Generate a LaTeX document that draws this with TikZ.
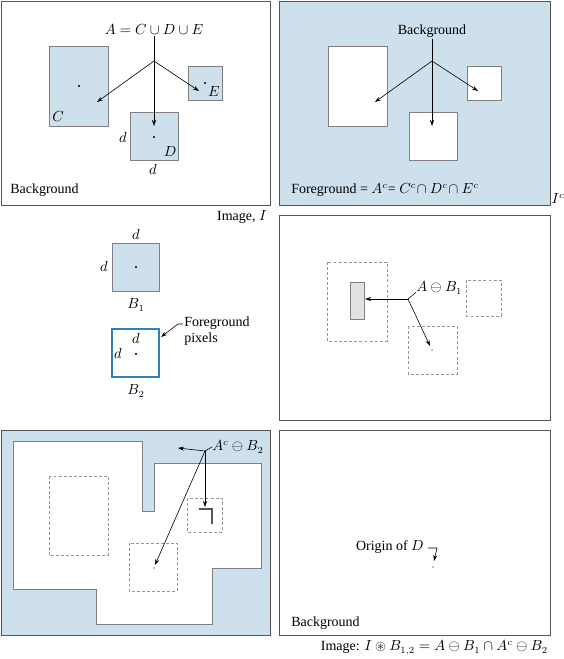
\documentclass[tikz,border=0pt]{standalone}
\usepackage{amsmath}
\usepackage{amssymb}
\usepackage{fontspec}
\setmainfont{Liberation Serif}
\usetikzlibrary{arrows.meta}

\definecolor{lightbg}{RGB}{206,224,236}
\definecolor{framegray}{RGB}{85,85,85}
\definecolor{dashgray}{RGB}{150,150,150}
\definecolor{boxblue}{RGB}{45,130,190}
\definecolor{erodgray}{RGB}{226,226,226}

\tikzset{
  panelframe/.style={draw=framegray, line width=0.6pt},
  setbox/.style={draw=gray, line width=0.6pt},
  dashbox/.style={draw=dashgray, dashed, dash pattern=on 2.2pt off 1.6pt, line width=0.5pt},
  arr/.style={-{Stealth[length=4.5pt,width=3pt]}, line width=0.45pt},
  lbl/.style={inner sep=0.75pt, font=\fontsize{10.5}{12.5}\selectfont},
}

\begin{document}
\begin{tikzpicture}[x=0.75pt,y=0.75pt,yscale=-1,xscale=1]
\useasboundingbox (0,0) rectangle (563,659);

%Shape: Panel [top left]
\draw [panelframe, fill=white] (1,1) rectangle (270,205) ;
\draw [setbox, fill=lightbg] (49,46) rectangle (108,126) ;
\draw [setbox, fill=lightbg] (130,112) rectangle (178,160) ;
\draw [setbox, fill=lightbg] (188,66) rectangle (222,100) ;
\fill (79,86) circle (1.1) ;
\fill (154,137) circle (1.1) ;
\fill (205,83) circle (1.1) ;
% Text Node
\node [lbl] (ttlA) at (154,30) {$A = C \cup D \cup E$};
\node [lbl] (lblC) at (58,117) {$C$};
\node [lbl] (lblD) at (170,152) {$D$};
\node [lbl] (lblE) at (214,92) {$E$};
\node [lbl] (dLeft) at (123,137) {$d$};
\node [lbl] (dBot) at (153,169) {$d$};
\node [lbl, anchor=west] (bgA) at (9,190) {Background};
%Straight Lines
\coordinate (brA) at (154,61) ;
\coordinate (tgC) at (97,102) ;
\coordinate (tgD) at (154,126) ;
\coordinate (tgE) at (199,91) ;
\draw [line width=0.45pt] (ttlA) -- (brA) ;
\draw [arr] (brA) -- (tgC) ;
\draw [arr] (brA) -- (tgD) ;
\draw [arr] (brA) -- (tgE) ;

%Shape: Panel [top right]
\draw [panelframe, fill=lightbg] (279,1) rectangle (550,205) ;
\draw [setbox, fill=white] (328,46) rectangle (387,126) ;
\draw [setbox, fill=white] (409,112) rectangle (457,160) ;
\draw [setbox, fill=white] (467,66) rectangle (501,100) ;
% Text Node
\node [lbl] (ttlB) at (432,31) {Background};
\node [lbl, anchor=west] (fgB) at (290,190) {Foreground = $A^c$= $C^c\!\cap D^c\!\cap E^c$};
\node [lbl] (icB) at (558,199) {$I^c$};
%Straight Lines
\coordinate (brB) at (432,61) ;
\coordinate (tgCc) at (375,102) ;
\coordinate (tgDc) at (432,126) ;
\coordinate (tgEc) at (478,91) ;
\draw [line width=0.45pt] (ttlB) -- (brB) ;
\draw [arr] (brB) -- (tgCc) ;
\draw [arr] (brB) -- (tgDc) ;
\draw [arr] (brB) -- (tgEc) ;

%Shape: Structuring elements
\node [lbl, anchor=east] (imgI) at (268,217) {Image, $I$};
\draw [setbox, fill=lightbg] (112,243) rectangle (159,291) ;
\fill (136,267) circle (1.1) ;
\node [lbl] (dB1t) at (136,234) {$d$};
\node [lbl] (dB1l) at (104,266) {$d$};
\node [lbl] (nB1) at (136,305) {$B_1$};
\draw [draw=boxblue, line width=0.85pt, fill=white] (112,329) rectangle (159,377) ;
\fill (136,354) circle (1.1) ;
\node [lbl] (dB2t) at (136,338) {$d$};
\node [lbl] (dB2l) at (118,353) {$d$};
\node [lbl] (nB2) at (136,391) {$B_2$};
\node [lbl, anchor=west, align=left] (fgpix) at (183,331) {Foreground\\pixels};
\coordinate (tgB2) at (161,337) ;
\draw [arr] (fgpix.west |- 0,324) -- (178,324) -- (tgB2) ;

%Shape: Panel [middle right]
\draw [panelframe, fill=white] (279,215) rectangle (550,420) ;
\draw [dashbox] (327,262) rectangle (387,341) ;
\draw [dashbox] (466,280) rectangle (501,316) ;
\draw [dashbox] (408,326) rectangle (457,374) ;
\draw [draw=gray, fill=erodgray, line width=0.5pt] (350,282) rectangle (364,319) ;
\fill [gray] (432,350) circle (0.9) ;
% Text Node
\node [lbl, anchor=west] (ttlE1) at (415,288) {$A\ominus B_1$};
\coordinate (brE1) at (408,299) ;
\coordinate (tgE1a) at (365,299) ;
\coordinate (tgE1b) at (430,346) ;
\draw [line width=0.45pt] (ttlE1.south west) ++(1,-3) -- (brE1) ;
\draw [arr] (brE1) -- (tgE1a) ;
\draw [arr] (brE1) -- (tgE1b) ;

%Shape: Panel [bottom left]
\draw [panelframe, fill=lightbg] (1,430) rectangle (270,635) ;
\draw [draw=gray, line width=0.5pt, fill=white] (13,441) -- (142,441) -- (142,511) -- (154,511) -- (154,463) -- (261,463) -- (261,568) -- (212,568) -- (212,624) -- (96,624) -- (96,589) -- (13,589) -- cycle ;
\draw [dashbox] (49,476) rectangle (108,555) ;
\draw [dashbox] (187,498) rectangle (222,532) ;
\draw [dashbox] (129,543) rectangle (177,591) ;
\draw [draw=framegray, line width=1.1pt] (199,509) -- (212,509) -- (212,524) ;
\fill [gray] (154,568) circle (0.9) ;
% Text Node
\node [lbl, anchor=west] (ttlE2) at (211,447) {$A^c\ominus B_2$};
\coordinate (brE2) at (205,451) ;
\coordinate (tgE2a) at (178,448) ;
\coordinate (tgE2b) at (205,507) ;
\coordinate (tgE2c) at (155,565) ;
\draw [line width=0.45pt] (ttlE2.west) ++(1,0) -- (brE2) ;
\draw [arr] (brE2) -- (tgE2a) ;
\draw [arr] (brE2) -- (tgE2b) ;
\draw [arr] (brE2) -- (tgE2c) ;

%Shape: Panel [bottom right]
\draw [panelframe, fill=white] (279,430) rectangle (550,635) ;
\fill [gray] (433,567) circle (0.9) ;
% Text Node
\node [lbl, anchor=east] (orgD) at (425,547) {Origin of $D$};
\node [lbl, anchor=west] (bgF) at (290,623) {Background};
\node [lbl, anchor=east] (capF) at (549,648) {Image: $I \circledast B_{1,2} = A\ominus B_1\cap A^c\ominus B_2$};
\coordinate (tgOrg) at (434,561) ;
\draw [arr] (orgD.east) ++(3,1) -- (437,548) -- (tgOrg) ;

\end{tikzpicture}
\end{document}
